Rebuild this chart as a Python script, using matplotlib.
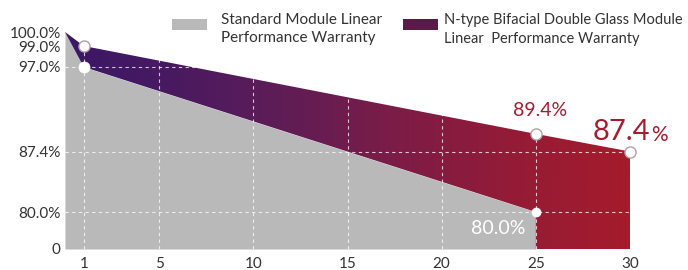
import numpy as np
import matplotlib
matplotlib.use("Agg")
import matplotlib.pyplot as plt
from matplotlib.colors import LinearSegmentedColormap
from matplotlib.patches import Polygon, Rectangle

plt.rcParams['font.family'] = ['Lato', 'DejaVu Sans']

# ---- data ----
std_years = [0, 1, 25]
std_values = [100.0, 97.0, 80.0]
ntype_years = [0, 1, 25, 30]
ntype_values = [100.0, 99.0, 89.4, 87.4]
x_ticks = [1, 5, 10, 15, 20, 25, 30]
y_ticks = [0, 80.0, 87.4, 97.0, 99.0, 100.0]
y_tick_labels = ["0", "80.0%", "87.4%", "97.0%", "99.0%", "100.0%"]
legend_labels = ["Standard Module Linear\nPerformance Warranty",
                 "N-type Bifacial Double Glass Module\nLinear  Performance Warranty"]

# piecewise (broken) value axis as in the reference
_v = np.array([-100, 0, 80, 87.4, 97, 99, 100, 200])
_p = np.array([-46.25, 0, 37, 97.5, 182, 203, 217, 1617])
def fwd(v):
    return np.interp(v, _v, _p)
def inv(p):
    return np.interp(p, _p, _v)

W, H = 688, 270
fig = plt.figure(figsize=(W/100, H/100), dpi=100)
x0, x1 = 65, 630
ybot, ytop = 249, 32
ax = fig.add_axes([x0/W, 1-ybot/H, (x1-x0)/W, (ybot-ytop)/H])
ax.set_yscale('function', functions=(fwd, inv))
ax.set_xlim(0, 30)
ax.set_ylim(0, 100)

gray = '#b9b9b9'
ax.fill_between(std_years, 0, std_values, color=gray, lw=0, zorder=1)

top = list(zip(ntype_years, ntype_values))
bottom = [(30, 0), (25, 0), (25, 80.0), (1, 97.0), (0, 100.0)]
poly = Polygon(top + bottom, closed=True, transform=ax.transData, facecolor='none', edgecolor='none')
ax.add_patch(poly)
cmap = LinearSegmentedColormap.from_list('g', ['#3a1767', '#4a1a60', '#611d55', '#7e1c45', '#951b36', '#a51b2b'])
grad = np.linspace(0, 1, 256).reshape(1, -1)
im = ax.imshow(grad, cmap=cmap, aspect='auto', extent=[0, 30, 0, 100], zorder=2, interpolation='bilinear')
im.set_clip_path(poly)
ax.set_xlim(0, 30)
ax.set_ylim(0, 100)

for xv in [1, 5, 10, 15, 20, 25]:
    ax.axvline(xv, color='white', lw=0.8, ls=(0, (3, 3)), alpha=0.75, zorder=3)
for yv in [80.0, 87.4, 97.0]:
    ax.axhline(yv, color='white', lw=0.8, ls=(0, (3, 3)), alpha=0.75, zorder=3)

ax.plot([ntype_years[1], ntype_years[2], ntype_years[3]],
        [ntype_values[1], ntype_values[2], ntype_values[3]],
        ls='none', marker='o', ms=8, mfc='white', mec='#b0a0a8', mew=1.0, zorder=5, clip_on=False)
ax.plot([std_years[1]], [std_values[1]],
        ls='none', marker='o', ms=8, mfc='white', mec='white', mew=0.5, zorder=5, clip_on=False)
ax.plot([std_years[2]], [std_values[2]],
        ls='none', marker='o', ms=6.5, mfc='white', mec='white', mew=0.5, zorder=5, clip_on=False)

red = '#a61c2e'
ax.annotate("89.4%", (25, 89.4), xytext=(3, 17), textcoords='offset points', ha='center', va='center',
            fontsize=14, color=red, zorder=6)
ax.annotate("87.4", (30, 87.4), xytext=(-6, 14), textcoords='offset points', ha='center', va='center',
            fontsize=21, color=red, zorder=6, annotation_clip=False)
ax.annotate("%", (30, 87.4), xytext=(21.5, 12), textcoords='offset points', ha='center', va='center',
            fontsize=15, color=red, zorder=6, annotation_clip=False)
ax.annotate("80.0%", (25, 80.0), xytext=(-27, -12), textcoords='offset points', ha='center', va='center',
            fontsize=14, color='white', zorder=6)

ax.set_xticks(x_ticks)
ax.set_xticklabels([str(t) for t in x_ticks])
ax.set_yticks(y_ticks)
ax.set_yticklabels(y_tick_labels)
ax.minorticks_off()
ax.tick_params(axis='both', length=0, labelsize=11, colors='#333333')
ax.tick_params(axis='y', pad=3)
ax.tick_params(axis='x', pad=6)
for s in ax.spines.values():
    s.set_visible(False)
ax.set_facecolor('white')

fig.patches.append(Rectangle((172/W, 1-30/H), 35/W, 11/H, transform=fig.transFigure, facecolor=gray, edgecolor='none'))
fig.patches.append(Rectangle((403/W, 1-30/H), 35/W, 11/H, transform=fig.transFigure, facecolor='#5c1a4a', edgecolor='none'))
fig.text(221/W, 1-13/H, legend_labels[0], ha='left', va='top', fontsize=11, color='#333333', linespacing=1.4)
fig.text(444/W, 1-13/H, legend_labels[1], ha='left', va='top', fontsize=10.5, color='#333333', linespacing=1.47)

fig.savefig('out.png', dpi=100)
